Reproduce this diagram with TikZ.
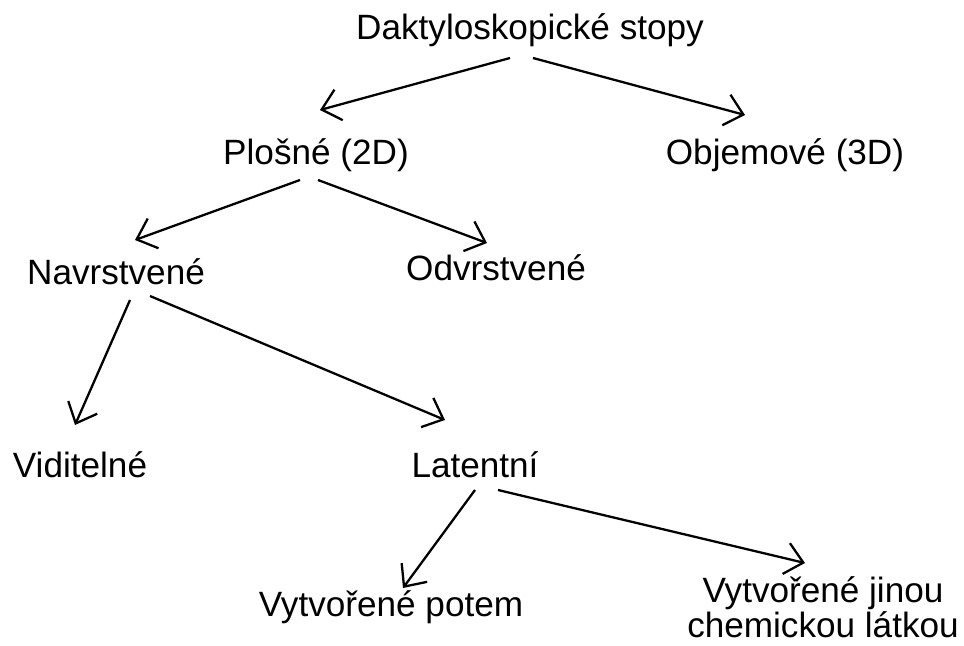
\documentclass[tikz,border=0pt]{standalone}
\usepackage{fontspec}
\setmainfont{Liberation Sans}
\usepackage{tikz}
\usetikzlibrary{calc}
\usetikzlibrary{arrows.meta}
\tikzset{>={Straight Barb[length=10pt,width=18pt]}}
\tikzstyle{term}=[inner sep=0,font=\fontsize{20}{18}\selectfont,align=center]
\tikzstyle{arr}=[->,line width=1.3pt]
\begin{document}
\begin{tikzpicture}[x=0.02cm,y=-0.02cm]
 \useasboundingbox (0,0) rectangle (964,646);
 \node[term] (root) at (530,30) {Daktyloskopické stopy};
 \node[term] (plo) at (316,155) {Plošné (2D)};
 \node[term] (obj) at (785,155) {Objemové (3D)};
 \node[term] (nav) at (116,272) {Navrstvené};
 \node[term] (odv) at (496,268) {Odvrstvené};
 \node[term] (vid) at (80,465) {Viditelné};
 \node[term] (lat) at (475,465) {Latentní};
 \node[term] (pot) at (391,607) {Vytvořené potem};
 \node[term] (chem) at (823,607) {Vytvořené jinou\\chemickou látkou};
 %
 \draw[arr] ($(root)+(-20,28)$) -- ($(plo)+(4,-45)$);
 \draw[arr] ($(root)+(3,28)$) -- ($(obj)+(-40,-40)$);
 \draw[arr] ($(plo)+(-16,25)$) -- ($(nav)+(19,-32)$);
 \draw[arr] ($(plo)+(2,25)$) -- ($(odv)+(-9,-25)$);
 \draw[arr] ($(nav)+(14,28)$) -- ($(vid)+(-5,-40)$);
 \draw[arr] ($(nav)+(34,24)$) -- ($(lat)+(-30,-45)$);
 \draw[arr] ($(lat)+(0,25)$) -- ($(pot)+(12,-19)$);
 \draw[arr] ($(lat)+(23,25)$) -- ($(chem)+(-18,-44)$);
\end{tikzpicture}
\end{document}
